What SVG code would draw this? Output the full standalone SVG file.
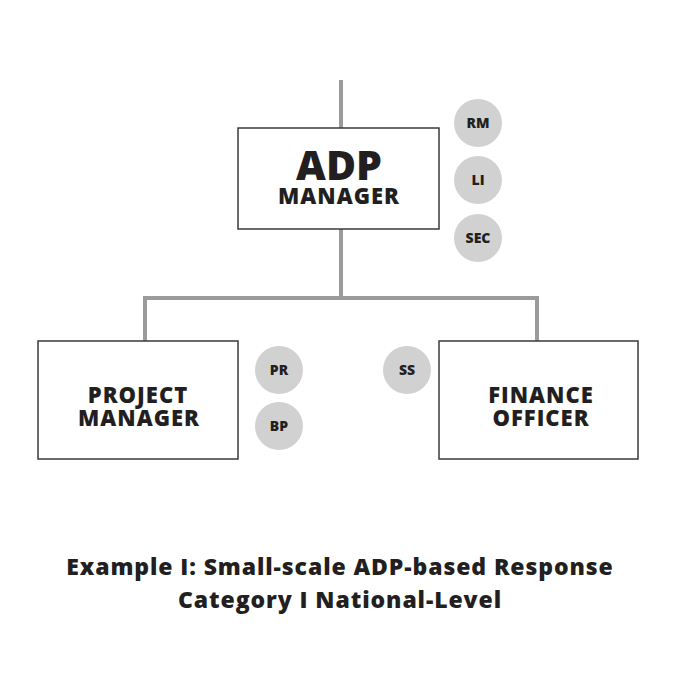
<svg xmlns="http://www.w3.org/2000/svg" width="680" height="680" viewBox="0 0 680 680">
<style>
.box{fill:#fff;stroke:#3a3a3a;stroke-width:1.5}
.ln{fill:none;stroke:#9b9b9b;stroke-width:4}
.dot{fill:#d1d1d1}
text{font-family:"Open Sans",Lato,"Liberation Sans",sans-serif;font-weight:800;fill:#231f20;text-anchor:middle}
.big{font-size:41px}
.mid{font-size:22px;letter-spacing:1px}
.sm{font-size:14px}
.cap{font-size:23px;letter-spacing:0.9px}
</style>
<rect width="680" height="680" fill="#fff"/>
<g id="connectors">
<line class="ln" x1="341" y1="80" x2="341" y2="128"/>
<polyline class="ln" points="341,229 341,298"/>
<polyline class="ln" points="145,341 145,298 537,298 537,341"/>
</g>
<g id="adp-manager">
<rect class="box" x="238" y="128" width="201" height="101"/>
<text class="big" x="339" y="180">ADP</text>
<text class="mid" x="339" y="204">MANAGER</text>
</g>
<g id="project-manager">
<rect class="box" x="38" y="341" width="200" height="118"/>
<text class="mid" x="138" y="403">PROJECT</text>
<text class="mid" x="139" y="426">MANAGER</text>
</g>
<g id="finance-officer">
<rect class="box" x="439" y="341" width="199" height="118"/>
<text class="mid" x="541" y="403">FINANCE</text>
<text class="mid" x="541" y="426">OFFICER</text>
</g>
<g id="rm"><circle class="dot" cx="478" cy="123" r="24"/><text class="sm" x="478" y="128">RM</text></g>
<g id="li"><circle class="dot" cx="478" cy="180" r="24"/><text class="sm" x="478" y="185">LI</text></g>
<g id="sec"><circle class="dot" cx="478" cy="238" r="24"/><text class="sm" x="478" y="243">SEC</text></g>
<g id="pr"><circle class="dot" cx="279" cy="370" r="24"/><text class="sm" x="279" y="375">PR</text></g>
<g id="bp"><circle class="dot" cx="279" cy="426" r="24"/><text class="sm" x="279" y="431">BP</text></g>
<g id="ss"><circle class="dot" cx="407" cy="370" r="24"/><text class="sm" x="407" y="375">SS</text></g>
<g id="caption">
<text class="cap" x="340" y="575">Example I: Small-scale ADP-based Response</text>
<text class="cap" x="340" y="608">Category I National-Level</text>
</g>
</svg>
